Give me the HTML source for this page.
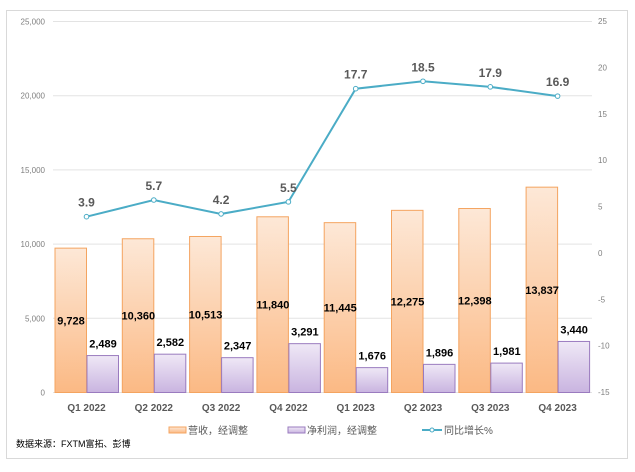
<!DOCTYPE html>
<html><head><meta charset="utf-8"><style>
body{margin:0;background:#fff;}
svg{display:block;font-family:"Liberation Sans","Noto Sans CJK SC",sans-serif;}
</style></head><body>
<svg id="c" width="635" height="472" viewBox="0 0 635 472">
<defs>
<linearGradient id="go" x1="0" y1="0" x2="0" y2="1"><stop offset="0" stop-color="#fde8d7"/><stop offset="1" stop-color="#fbb984"/></linearGradient>
<linearGradient id="gp" x1="0" y1="0" x2="0" y2="1"><stop offset="0" stop-color="#efe8f6"/><stop offset="1" stop-color="#c9b4e0"/></linearGradient>
</defs>
<rect x="6.5" y="10.5" width="621" height="448" fill="#fff" stroke="#d9d9d9"/>
</svg>
<script>
var s=document.getElementById('c'),h='';
var rev=[9728,10360,10513,11840,11445,12275,12398,13837],np=[2489,2582,2347,3291,1676,1896,1981,3440],g=[3.9,5.7,4.2,5.5,17.7,18.5,17.9,16.9];
var lab=['Q1 2022','Q2 2022','Q3 2022','Q4 2022','Q1 2023','Q2 2023','Q3 2023','Q4 2023'];
function Y(v){return 392.5-v*0.01484;}function R(v){return 21+(25-v)*9.275;}
for(var i=0;i<=5;i++){var y=392.5-i*74.2;h+='<line x1="53" x2="592" y1="'+y+'" y2="'+y+'" stroke="#e3e3e3"/>';
h+='<text x="45" y="'+(y+3)+'" font-size="8" fill="#7f7f7f" text-anchor="end">'+(i==0?'0':(i*5)+',000')+'</text>';}
for(var i=0;i<=8;i++){var v=25-i*5;h+='<text x="598" y="'+(R(v)+3)+'" font-size="8" fill="#7f7f7f">'+v+'</text>';}
var pts=[];
for(var i=0;i<8;i++){var st=53+67.3*i,x=st+2,yt=Y(rev[i]);
h+='<rect x="'+x+'" y="'+yt+'" width="31.5" height="'+(392.5-yt)+'" fill="url(#go)" stroke="#f4a460" stroke-width="1"/>';
h+='<text x="'+(x+16)+'" y="'+((yt+392.5)/2+4)+'" font-size="11" font-weight="bold" text-anchor="middle">'+rev[i].toLocaleString('en-US')+'</text>';
var px=st+34,yp=Y(np[i]);
h+='<rect x="'+px+'" y="'+yp+'" width="31.5" height="'+(392.5-yp)+'" fill="url(#gp)" stroke="#9a7bbf" stroke-width="1"/>';
h+='<text x="'+(px+16)+'" y="'+(yp-8)+'" font-size="11" font-weight="bold" text-anchor="middle">'+np[i].toLocaleString('en-US')+'</text>';
h+='<text x="'+(st+33.5)+'" y="411" font-size="10" fill="#595959" font-weight="bold" text-anchor="middle">'+lab[i]+'</text>';
pts.push((st+33.5)+','+R(g[i]));}
h+='<polyline points="'+pts.join(' ')+'" fill="none" stroke="#4bacc6" stroke-width="2"/>';
for(var i=0;i<8;i++){var p=pts[i].split(',');h+='<circle cx="'+p[0]+'" cy="'+p[1]+'" r="2.3" fill="#fff" stroke="#4bacc6" stroke-width="1"/>';
h+='<text x="'+p[0]+'" y="'+(p[1]-10)+'" font-size="12" font-weight="bold" fill="#595959" text-anchor="middle">'+g[i].toFixed(1)+'</text>';}
h+='<rect x="169" y="427" width="17" height="6" fill="url(#go)" stroke="#f4a460"/><text x="188" y="434" font-size="10" fill="#595959">营收，经调整</text>';
h+='<rect x="288" y="427" width="17" height="6" fill="url(#gp)" stroke="#9a7bbf"/><text x="307" y="434" font-size="10" fill="#595959">净利润，经调整</text>';
h+='<line x1="422" x2="442" y1="430" y2="430" stroke="#4bacc6" stroke-width="2"/><circle cx="432" cy="430" r="2" fill="#fff" stroke="#4bacc6"/><text x="444" y="434" font-size="10" fill="#595959">同比增长%</text>';
h+='<text x="16" y="447" font-size="9" fill="#000">数据来源：FXTM富拓、彭博</text>';
s.insertAdjacentHTML('beforeend',h);
</script>
</body></html>
